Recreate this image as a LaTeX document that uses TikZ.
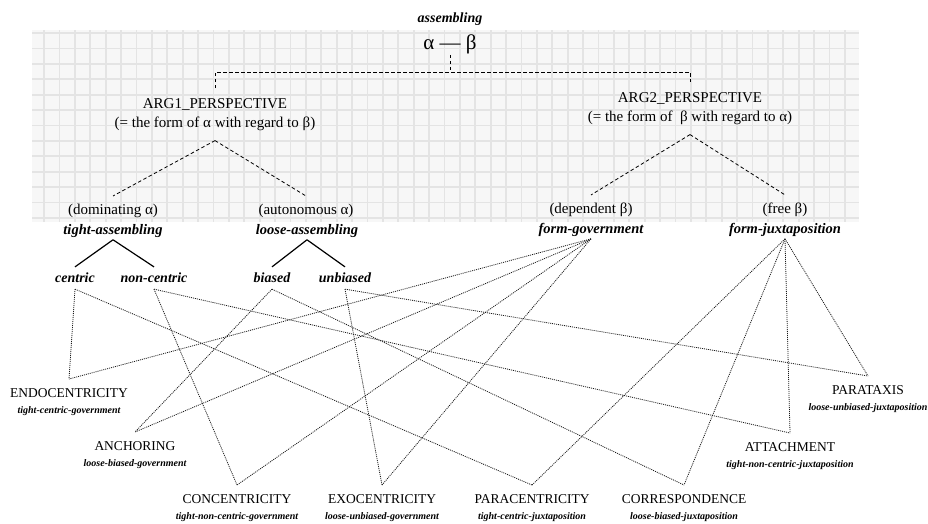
\documentclass[tikz,border=0pt]{standalone}
\usepackage{fontspec}
\setmainfont{Liberation Serif}
\usetikzlibrary{positioning}
\definecolor{cG}{HTML}{e4e4e4}
\definecolor{cB}{HTML}{f7f7f7}
\definecolor{cL}{HTML}{1a1a1a}
\newcommand{\subl}[1]{{\fontsize{10}{12}\selectfont\bfseries\itshape #1}}
\tikzset{
  gridline/.style={cG,line width=1.8pt},
  persp/.style={anchor=north,align=center,inner xsep=0pt,inner ysep=10pt,
                font=\fontsize{15}{19}\selectfont},
  pcase/.style={inner ysep=8pt,font=\fontsize{15}{17}\selectfont},
  head/.style={inner ysep=2pt,font=\fontsize{14.5}{17}\selectfont\bfseries\itshape},
  kind/.style={inner ysep=6pt,font=\fontsize{14}{17}\selectfont\bfseries\itshape},
  leaf/.style={anchor=north,align=center,inner ysep=9.5pt,
               font=\fontsize{13.5}{16}\selectfont},
  conn/.style={dash pattern=on 3.5pt off 2.5pt,line width=.8pt},
  branch/.style={line width=1.2pt},
  link/.style={dash pattern=on 1pt off 1pt,line width=.8pt,cL},
}
\begin{document}
\begin{tikzpicture}[x=1pt,y=-1pt]
  \useasboundingbox (0,0) rectangle (928,523);
  % squared paper behind the upper part
  \fill[cB] (32,30) rectangle (859,222);
  \begin{scope}
    \clip (32,30) rectangle (859,222);
    \foreach \i in {0,...,52}{
      \draw[gridline] ({44+15.4*\i},30) -- ({44+15.4*\i},222);
    }
    \foreach \j in {0,...,12}{
      \draw[gridline] (32,{33+15.4*\j}) -- (859,{33+15.4*\j});
    }
  \end{scope}

  \node[head,font=\fontsize{14}{17}\selectfont\bfseries\itshape] (asm) at (450,19) {assembling};
  \node[inner sep=1pt,font=\fontsize{21}{24}\selectfont] (pair) at (450,44) {α — β};
  \coordinate (fork) at (450,72);

  \node[persp] (arg1) at (215,88) {ARG1\_PERSPECTIVE\\(= the form of α with regard to β)};
  \node[persp] (arg2) at (690,82) {ARG2\_PERSPECTIVE\\(= the form of~~β with regard to α)};
  \draw[conn] (pair.south) -- (fork);
  \draw[conn] (arg1.north) |- (fork) -| (arg2.north);

  \node[pcase] (dom) at (113,211) {(dominating α)};
  \node[pcase] (aut) at (306,211) {(autonomous α)};
  \node[pcase] (dep) at (591,210) {(dependent β)};
  \node[pcase] (fre) at (785,210) {(free β)};
  \foreach \a/\b in {arg1/dom,arg1/aut,arg2/dep,arg2/fre}{
    \draw[conn] (\a.south) -- (\b.north);
  }

  \node[head] (tight) at (113,231) {tight-assembling};
  \node[head] (loose) at (307,231) {loose-assembling};
  \node[head] (fgov) at (591,230) {form-government};
  \node[head] (fjux) at (785,230) {form-juxtaposition};

  \node[kind] (cen) at (75,278) {centric};
  \node[kind] (ncen) at (154,278) {non-centric};
  \node[kind] (bia) at (272,278) {biased};
  \node[kind] (ubia) at (345,278) {unbiased};
  \foreach \a/\b in {tight/cen,tight/ncen,loose/bia,loose/ubia}{
    \draw[branch] (\a.south) -- (\b.north);
  }

  % the eight assembling types
  \node[leaf] (endo) at (69,379) {ENDOCENTRICITY\\\subl{tight-centric-government}};
  \node[leaf] (anch) at (135,432) {ANCHORING\\\subl{loose-biased-government}};
  \node[leaf] (conc) at (237,485) {CONCENTRICITY\\\subl{tight-non-centric-government}};
  \node[leaf] (exo) at (382,485) {EXOCENTRICITY\\\subl{loose-unbiased-government}};
  \node[leaf] (para) at (532,485) {PARACENTRICITY\\\subl{tight-centric-juxtaposition}};
  \node[leaf] (corr) at (684,485) {CORRESPONDENCE\\\subl{loose-biased-juxtaposition}};
  \node[leaf] (att) at (790,433) {ATTACHMENT\\\subl{tight-non-centric-juxtaposition}};
  \node[leaf] (ptx) at (868,376) {PARATAXIS\\\subl{loose-unbiased-juxtaposition}};

  \foreach \a/\b in {cen/endo,cen/para,ncen/conc,ncen/att,bia/anch,bia/corr,
                     ubia/exo,ubia/ptx,fgov/endo,fgov/anch,fgov/conc,fgov/exo,
                     fjux/para,fjux/corr,fjux/att,fjux/ptx}{
    \draw[link] (\a.south) -- (\b.north);
  }
\end{tikzpicture}
\end{document}
